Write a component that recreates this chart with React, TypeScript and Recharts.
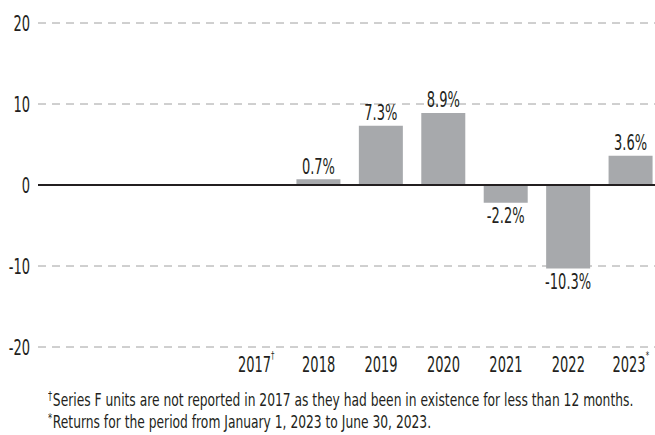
import React from 'react';
import { BarChart, Bar, XAxis, YAxis, CartesianGrid, ReferenceLine, LabelList } from 'recharts';

const years = ['2017', '2018', '2019', '2020', '2021', '2022', '2023'];
const yearMarks = ['†', '', '', '', '', '', '*'];
const returns: (number | null)[] = [null, 0.7, 7.3, 8.9, -2.2, -10.3, 3.6];
const yTicks = [-20, -10, 0, 10, 20];
const notes = [
  ['†', 'Series F units are not reported in 2017 as they had been in existence for less than 12 months.'],
  ['*', 'Returns for the period from January 1, 2023 to June 30, 2023.'],
];

const data = years.map((year, i) => ({ year, mark: yearMarks[i], value: returns[i] }));

const FONT = '"DejaVu Sans Condensed", "DejaVu Sans", sans-serif';
const TEXT = '#231f20';
const SX = 0.69;
const FS = 21;

// narrow text: draw at origin then squeeze horizontally
function Narrow({ x, y, anchor = 'middle', children, size = FS }: any) {
  return (
    <text
      transform={`translate(${x},${y}) scale(${SX},1)`}
      textAnchor={anchor}
      dominantBaseline="central"
      fill={TEXT}
      fontSize={size}
      fontFamily={FONT}
      style={{ fontStretch: 'condensed' }}
    >
      {children}
    </text>
  );
}

function YearTick({ x, y, payload, index }: any) {
  const mark = yearMarks[index] || '';
  return (
    <Narrow x={x} y={y + 9}>
      {payload.value}
      {mark && (
        <tspan fontSize={11} dy="-0.9em">
          {mark}
        </tspan>
      )}
    </Narrow>
  );
}

function ValueTick({ x, y, payload }: any) {
  return (
    <Narrow x={x} y={y} anchor="end">
      {payload.value}
    </Narrow>
  );
}

function ValueLabel({ x, y, width, height, value }: any) {
  if (value === null || value === undefined) return null;
  const neg = value < 0;
  const cx = x + width / 2;
  const ty = neg ? Math.max(y, y + height) + 13 : Math.min(y, y + height) - 13;
  return <Narrow x={cx} y={ty}>{`${value}%`}</Narrow>;
}

export default function App() {
  return (
    <div
      style={{
        position: 'absolute',
        left: 0,
        top: 0,
        width: 655,
        height: 435,
        overflow: 'hidden',
        background: '#fff',
        fontFamily: FONT,
        fontStretch: 'condensed',
      }}
    >
      <BarChart
        width={662}
        height={390}
        data={data}
        margin={{ top: 23, right: 0, left: 0, bottom: 12 }}
      >
        <CartesianGrid vertical={false} stroke="#a0a0a0" strokeDasharray="8 6" />
        <XAxis
          dataKey="year"
          axisLine={false}
          tickLine={false}
          interval={0}
          height={31}
          padding={{ left: 187, right: 0 }}
          tick={<YearTick />}
        />
        <YAxis
          domain={[-20, 20]}
          ticks={yTicks}
          width={38}
          axisLine={false}
          tickLine={false}
          tickSize={0}
          tickMargin={8}
          tick={<ValueTick />}
        />
        <ReferenceLine y={0} stroke="#231f20" strokeWidth={2} />
        <Bar dataKey="value" fill="#a7a9ac" barSize={44} isAnimationActive={false}>
          <LabelList dataKey="value" content={<ValueLabel />} />
        </Bar>
      </BarChart>
      <div
        style={{
          position: 'absolute',
          left: 48,
          top: 389,
          fontSize: 18,
          color: TEXT,
          lineHeight: '22px',
          whiteSpace: 'nowrap',
          transform: 'scaleX(0.759)',
          transformOrigin: 'left top',
        }}
      >
        {notes.map(([mark, text]) => (
          <div key={mark}>
            <span style={{ fontSize: 12, verticalAlign: 'top', lineHeight: '14px', marginRight: 1 }}>{mark}</span>
            {text}
          </div>
        ))}
      </div>
    </div>
  );
}
